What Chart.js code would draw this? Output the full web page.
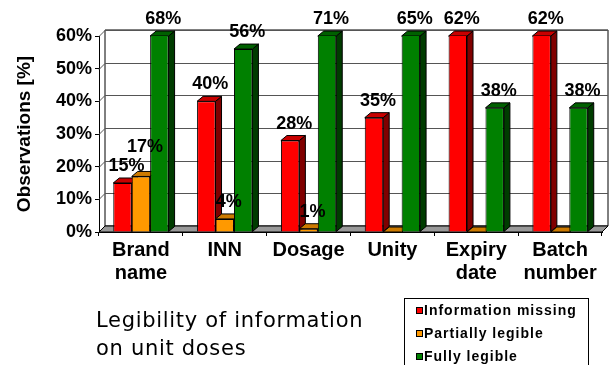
<!DOCTYPE html>
<html>
<head>
<meta charset="utf-8">
<script src="https://cdn.jsdelivr.net/npm/chart.js@4"></script>
<style>
  body { margin: 0; background: #fff; }
  #wrap { position: relative; width: 616px; height: 365px; overflow: hidden; }
  #chart { position: absolute; left: 0; top: 0; }
  #caption { position: absolute; left: 96px; top: 306px; font-family: "DejaVu Sans", sans-serif; font-size: 21px; line-height: 28px; letter-spacing: 0.7px; color: #000; }
  #legend { position: absolute; left: 404px; top: 298px; width: 183px; height: 80px; border: 1px solid #000; background: #fff; font-family: Arial, "Liberation Sans", sans-serif; font-size: 14px; font-weight: bold; letter-spacing: 1px; color: #000; }
  .item { position: absolute; left: 19px; height: 16px; line-height: 16px; white-space: nowrap; }
  .box { position: absolute; left: -8px; top: 5px; width: 5px; height: 5px; border: 1px solid #000; }
</style>
</head>
<body>
<div id="wrap">
  <canvas id="chart" width="616" height="365"></canvas>
  <div id="caption">Legibility of information<br>on unit doses</div>
  <div id="legend"></div>
</div>
<script>
const categories = [['Brand', 'name'], 'INN', 'Dosage', 'Unity', ['Expiry', 'date'], ['Batch', 'number']];
const seriesNames = ['Information missing', 'Partially legible', 'Fully legible'];
const infoMissing = [15, 40, 28, 35, 62, 62];
const partiallyLegible = [17, 4, 1, 0, 0, 0];
const fullyLegible = [68, 56, 71, 65, 38, 38];
const yMax = 60;
const yStep = 10;

const frontColors = ['#FF0000', '#FF9900', '#008000'];
const topColors = ['#C80000', '#CC7A00', '#006000'];
const sideColors = ['#800000', '#995C00', '#003C00'];

const DX = 6, DY = -6;   // depth of the walls
const BX = 6, BY = -5;   // depth of the bars

function poly(ctx, pts, fill) {
    ctx.beginPath();
    ctx.moveTo(pts[0][0], pts[0][1]);
    for (let i = 1; i < pts.length; i++) ctx.lineTo(pts[i][0], pts[i][1]);
    ctx.closePath();
    if (fill) { ctx.fillStyle = fill; ctx.fill(); }
    ctx.stroke();
}

// back wall, floor and the side/top faces of the bars
const depthPlugin = {
    id: 'depth',
    beforeDatasetsDraw(chart) {
        const { ctx, chartArea: a, scales: { y } } = chart;
        ctx.save();
        ctx.lineWidth = 1;
        ctx.strokeStyle = '#000';
        // back wall
        poly(ctx, [[a.left + DX, a.top + DY], [a.right + DX, a.top + DY], [a.right + DX, a.bottom + DY], [a.left + DX, a.bottom + DY]], '#fff');
        // grid lines on the wall
        ctx.strokeStyle = '#555';
        y.ticks.forEach(t => {
            const py = Math.round(y.getPixelForValue(t.value)) + 0.5;
            ctx.beginPath();
            ctx.moveTo(a.left, py);
            ctx.lineTo(a.left + DX, py + DY);
            ctx.lineTo(a.right + DX, py + DY);
            ctx.stroke();
        });
        // floor
        ctx.strokeStyle = '#000';
        poly(ctx, [[a.left, a.bottom], [a.left + DX, a.bottom + DY], [a.right + DX, a.bottom + DY], [a.right, a.bottom]], '#999');

        // bar depth faces, per category so neighbours overlap correctly
        const metas = chart.data.datasets.map((d, i) => chart.getDatasetMeta(i));
        for (let j = 0; j < chart.data.labels.length; j++) {
            metas.forEach((meta, i) => {
                const el = meta.data[j];
                const p = el.getProps(['x', 'y', 'base', 'width'], true);
                const l = p.x - p.width / 2, r = p.x + p.width / 2;
                const top = Math.max(p.y, a.top), bot = p.base;
                poly(ctx, [[r, top], [r + BX, top + BY], [r + BX, bot + BY], [r, bot]], sideColors[i]);
                poly(ctx, [[l, top], [l + BX, top + BY], [r + BX, top + BY], [r, top]], topColors[i]);
            });
        }
        ctx.restore();
    }
};

// value labels, pushed up when they would collide
const labelPlugin = {
    id: 'valueLabels',
    afterDatasetsDraw(chart) {
        const { ctx, chartArea: a } = chart;
        ctx.save();
        ctx.font = 'bold 18px Arial';
        ctx.fillStyle = '#000';
        ctx.textAlign = 'center';
        ctx.textBaseline = 'middle';
        const placed = [];
        chart.data.datasets.forEach((ds, i) => {
            chart.getDatasetMeta(i).data.forEach((el, j) => {
                const v = ds.data[j];
                if (!v) return;
                const txt = v + '%';
                const w = ctx.measureText(txt).width;
                const x = el.x + 4;
                let yy = Math.max(Math.max(el.y, a.top) - 17, 18);
                let moved = true;
                while (moved) {
                    moved = false;
                    for (const b of placed) {
                        if (Math.abs(b.x - x) < (b.w + w) / 2 && Math.abs(b.y - yy) < 16) {
                            yy = b.y - 19;
                            moved = true;
                        }
                    }
                }
                placed.push({ x, y: yy, w });
                ctx.fillText(txt, x, yy);
            });
        });
        ctx.restore();
    }
};

const ctx = document.getElementById('chart').getContext('2d');
const seriesData = [infoMissing, partiallyLegible, fullyLegible];

const chart = new Chart(ctx, {
    type: 'bar',
    data: {
        labels: categories,
        datasets: seriesData.map((d, i) => ({
            label: seriesNames[i],
            data: d,
            backgroundColor: frontColors[i],
            borderColor: '#000',
            borderWidth: 1,
            categoryPercentage: 0.66,
            barPercentage: 1,
            clip: 0
        }))
    },
    options: {
        responsive: false,
        animation: false,
        layout: { padding: { left: 0, top: 36, right: 14, bottom: 73 } },
        plugins: {
            legend: { display: false },
            tooltip: { enabled: false }
        },
        scales: {
            x: {
                ticks: { color: '#000', font: { family: 'Arial', size: 20, weight: 'bold', lineHeight: 1.15 }, padding: 3, maxRotation: 0, autoSkip: false },
                grid: { drawOnChartArea: false, tickLength: 4, color: '#000', offset: true },
                border: { color: '#000' },
                afterFit: s => { s.height = 60; }
            },
            y: {
                min: 0,
                max: yMax,
                ticks: { stepSize: yStep, callback: v => v + '%', color: '#000', font: { family: 'Arial', size: 18, weight: 'bold' }, padding: 3 },
                grid: { drawOnChartArea: false, tickLength: 4, color: '#000' },
                border: { color: '#000' },
                title: { display: true, text: 'Observations [%]', color: '#000', font: { family: 'Arial', size: 19, weight: 'bold' }, padding: { top: 13, bottom: 0 } },
                afterFit: s => { s.width = 99; }
            }
        }
    },
    plugins: [depthPlugin, labelPlugin]
});

// legend in its own box
const legend = document.getElementById('legend');
seriesNames.forEach((name, i) => {
    const item = document.createElement('div');
    item.className = 'item';
    item.style.top = (3 + i * 23) + 'px';
    item.innerHTML = '<span class="box" style="background:' + frontColors[i] + '"></span>' + name;
    legend.appendChild(item);
});
</script>
</body>
</html>
